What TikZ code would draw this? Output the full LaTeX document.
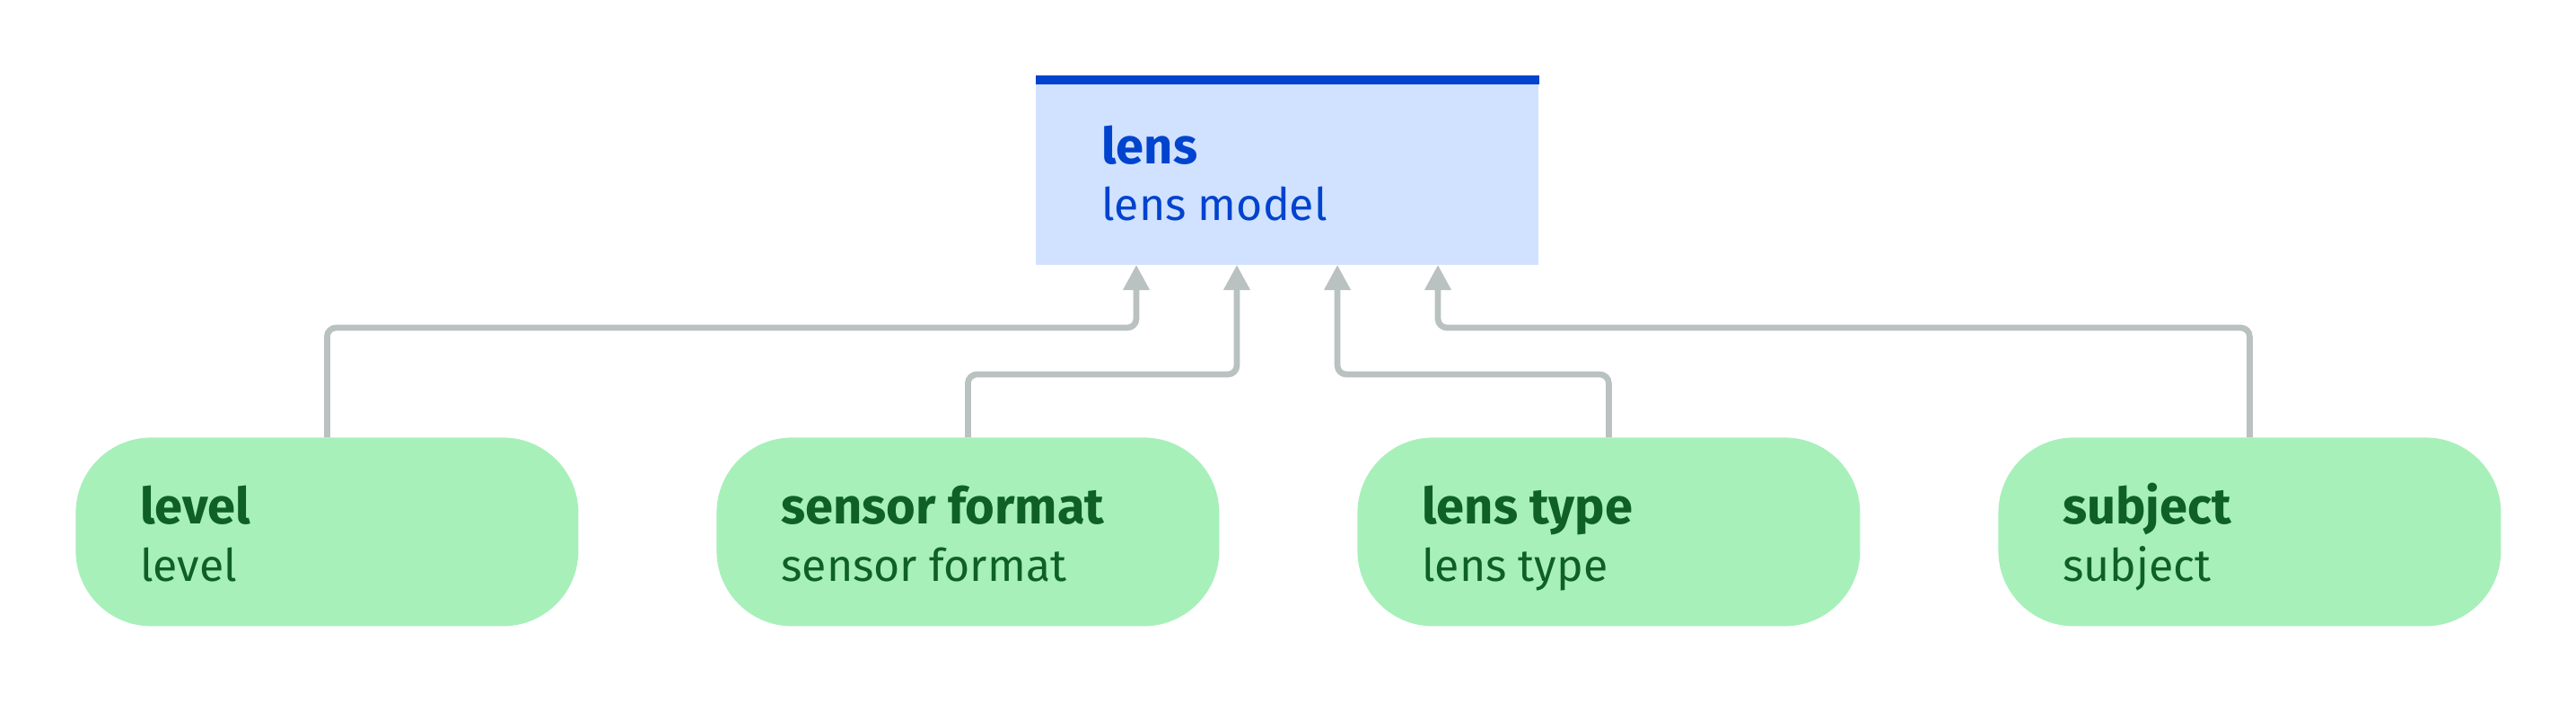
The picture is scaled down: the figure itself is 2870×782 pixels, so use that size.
\documentclass[tikz,border=0pt]{standalone}
\usepackage{fontspec}
\setmainfont{Fira Sans}
\usetikzlibrary{arrows.meta}
\definecolor{lensfill}{HTML}{D0E2FF}
\definecolor{lensblue}{HTML}{0043CE}
\definecolor{leaffill}{HTML}{A7F0BA}
\definecolor{leaftext}{HTML}{0E6027}
\definecolor{conncol}{HTML}{B9C1C1}
\tikzset{
  leafbox/.style={fill=leaffill, draw=none, rounded corners=42pt, minimum width=280pt, minimum height=105pt, inner sep=0pt, anchor=north west},
  lensbox/.style={fill=lensfill, draw=none, minimum width=280pt, minimum height=100.35pt, inner sep=0pt, anchor=north west},
  titletext/.style={anchor=base west, inner sep=0pt, font=\fontsize{28pt}{32pt}\selectfont\bfseries},
  subtext/.style={anchor=base west, inner sep=0pt, font=\fontsize{25pt}{29pt}\selectfont},
  conn/.style={draw=conncol, line width=3.35pt, rounded corners=5pt, -{Triangle[width=14pt,length=14pt]}},
}
\begin{document}
\begin{tikzpicture}[x=0.5pt,y=-0.5pt]
\useasboundingbox[fill=white] (0,0) rectangle (2870,782);
% lens box
\node[lensbox] (lens) at (1154,94) {};
\fill[lensblue] (lens.north west) rectangle ([yshift=5pt]lens.north east);
\node[titletext, text=lensblue] (lenst) at (1227,182) {lens};
\node[subtext, text=lensblue] (lenss) at (1227,245) {lens model};
% leaf boxes
\node[leafbox] (level) at (84,487) {};
\node[leafbox] (sensor) at (798,487) {};
\node[leafbox] (ltype) at (1512,487) {};
\node[leafbox] (subject) at (2226,487) {};
\foreach \n/\t in {level/level, sensor/sensor format, ltype/lens type, subject/subject}{
  \node[titletext, text=leaftext] (\n t) at ([xshift=36pt,yshift=-48pt]\n.north west) {\t};
  \node[subtext, text=leaftext] (\n s) at ([xshift=36pt,yshift=-80pt]\n.north west) {\t};
}
% arrow targets
\coordinate (a1) at (1266,295);
\coordinate (a2) at (1378,295);
\coordinate (a3) at (1490,295);
\coordinate (a4) at (1602,295);
% connectors
\draw[conn] (level.north) -- ++(0,-122) -| (a1);
\draw[conn] (sensor.north) -- ++(0,-70) -| (a2);
\draw[conn] (ltype.north) -- ++(0,-70) -| (a3);
\draw[conn] (subject.north) -- ++(0,-122) -| (a4);
\end{tikzpicture}
\end{document}
